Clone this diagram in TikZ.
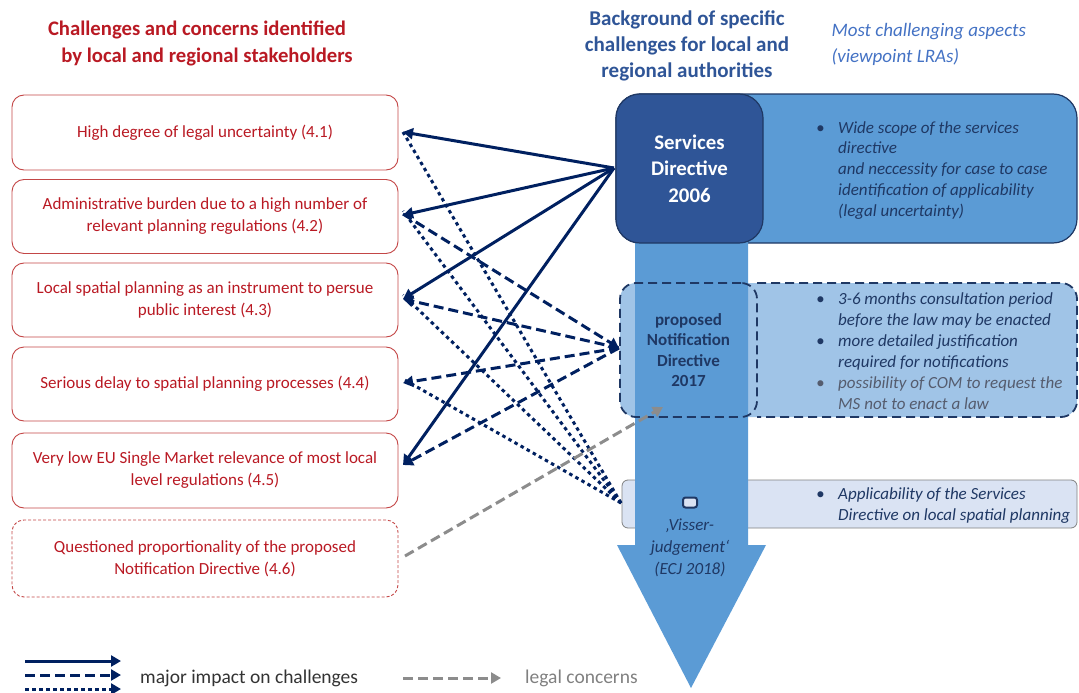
\documentclass[tikz,border=0pt]{standalone}
\usepackage{fontspec}
\setmainfont{Carlito}
\usetikzlibrary{arrows.meta}
\definecolor{redT}{RGB}{185,25,35}
\definecolor{redB}{RGB}{195,70,70}
\definecolor{navy}{RGB}{0,32,96}
\definecolor{mblue}{RGB}{91,155,213}
\definecolor{dblue}{RGB}{47,85,151}
\definecolor{bdark}{RGB}{31,56,100}
\definecolor{lblue}{RGB}{160,196,231}
\definecolor{vlight}{RGB}{218,227,243}
\definecolor{tblue}{RGB}{47,85,151}
\definecolor{iblue}{RGB}{68,114,196}
\definecolor{bgray}{RGB}{85,92,110}
\definecolor{lgray}{RGB}{140,140,140}
\tikzset{
  chbox/.style={draw=redB, line width=0.9pt, rounded corners=12pt, minimum width=386pt, minimum height=75pt, align=center, text=redT, font=\fontsize{17}{22}\selectfont},
  bl/.style={anchor=base west, text=bdark, font=\fontsize{17}{20}\selectfont\itshape, inner sep=0pt},
  blg/.style={bl, text=bgray},
  con/.style={navy, line width=3pt},
  tip/.style={-{Triangle[length=10pt,width=11pt]}},
  dsh/.style={dash pattern=on 10pt off 5pt},
  dot/.style={dash pattern=on 3.5pt off 3.5pt},
}
\begin{document}
\begin{tikzpicture}[x=1pt,y=-1pt]
\useasboundingbox (0,0) rectangle (1079,693);
% titles
\node[text=redT, font=\fontsize{20.7}{24}\selectfont\bfseries] (t1) at (197,30) {Challenges and concerns identified};
\node[text=redT, font=\fontsize{20.7}{24}\selectfont\bfseries] (t2) at (207,57) {by local and regional stakeholders};
\node[text=tblue, font=\fontsize{21}{26}\selectfont\bfseries, align=center] (t3) at (687,46) {Background of specific\\challenges for local and\\regional authorities};
\node[text=iblue, font=\fontsize{19}{26}\selectfont\itshape, align=left, anchor=west] (t4) at (828,44) {Most challenging aspects\\(viewpoint LRAs)};
% left boxes
\node[chbox] (b1) at (205,132.5) {High degree of legal uncertainty (4.1)};
\node[chbox, minimum height=74pt] (b2) at (205,216.5) {Administrative burden due to a high number of\\relevant planning regulations (4.2)};
\node[chbox, minimum height=74pt] (b3) at (205,300) {Local spatial planning as an instrument to persue\\public interest (4.3)};
\node[chbox, minimum height=74pt] (b4) at (205,384) {Serious delay to spatial planning processes (4.4)};
\node[chbox] (b5) at (205,470.5) {Very low EU Single Market relevance of most local\\level regulations (4.5)};
\node[chbox, dashed, dash pattern=on 3pt off 2pt, minimum height=77pt] (b6) at (205,558.5) {Questioned proportionality of the proposed\\Notification Directive (4.6)};
% right structure
\draw[fill=mblue, draw=bdark, line width=1.2pt, rounded corners=24pt] (616,94) rectangle (1077,243);
\fill[lblue, rounded corners=16pt] (620,283) rectangle (1077,417);
\draw[fill=vlight, draw=gray, line width=0.8pt, rounded corners=6pt] (622,480) rectangle (1077,528);
\fill[mblue] (635,230) -- (748,230) -- (748,545) -- (766,545) -- (691,688) -- (617,545) -- (635,545) -- cycle;
\node[draw=bdark, fill=dblue, line width=1.2pt, rounded corners=24pt, minimum width=147pt, minimum height=149pt, text=white, font=\fontsize{20.8}{26.5}\selectfont\bfseries, align=center] (serv) at (689.5,168.5) {Services\\Directive\\2006};
\draw[bdark, line width=1.8pt, dash pattern=on 9pt off 5pt, rounded corners=16pt] (757,283) -- (1077,283) -- (1077,417) -- (757,417);
\node[draw=bdark, line width=1.8pt, dash pattern=on 9pt off 5pt, rounded corners=16pt, minimum width=137pt, minimum height=134pt, text=bdark, font=\fontsize{17}{20.3}\selectfont\bfseries, align=center] (notif) at (688.5,350) {proposed\\Notification\\Directive\\2017};
\node[draw=bdark, fill=vlight, line width=2pt, rounded corners=2.5pt, minimum width=14pt, minimum height=10pt, inner sep=0pt] (icon) at (690,502.5) {};
\node[text=bdark, font=\fontsize{17}{22}\selectfont\itshape, align=center] (visser) at (690,548) {‚Visser-\\judgement‘\\(ECJ 2018)};
% bullets services
\node[bl] (sb1) at (816,133) {•};
\node[bl] (s1) at (838,133) {Wide scope of the services};
\node[bl] (s2) at (838,153.5) {directive};
\node[bl] (s3) at (838,174) {and neccessity for case to case};
\node[bl] (s4) at (838,195) {identification of applicability};
\node[bl] (s5) at (838,216) {(legal uncertainty)};
% bullets notification
\node[bl] (nb1) at (816,304) {•};
\node[bl] (n1) at (838,304) {3-6 months consultation period};
\node[bl] (n2) at (838,325) {before the law may be enacted};
\node[bl] (nb2) at (816,346) {•};
\node[bl] (n3) at (838,346) {more detailed justification};
\node[bl] (n4) at (838,367) {required for notifications};
\node[blg] (nb3) at (816,388) {•};
\node[blg] (n5) at (838,388) {possibility of COM to request the};
\node[blg] (n6) at (838,409) {MS not to enact a law};
% bullets visser
\node[bl] (vb1) at (816,499) {•};
\node[bl] (v1) at (838,499) {Applicability of the Services};
\node[bl] (v2) at (838,520) {Directive on local spatial planning};
% connector points
\coordinate (sP) at (614,168);
\coordinate (nP) at (619,348);
\coordinate (vP) at (621,503);
\coordinate (gP) at (663,407);
\coordinate (e1) at (403,132);
\coordinate (e2) at (403,215);
\coordinate (e3) at (403,299);
\coordinate (e4) at (403,383);
\coordinate (e5) at (403,465);
\coordinate (e6) at (405,556);
% dotted
\draw[con, dot] (vP) -- (e1);
\draw[con, dot] (vP) -- ([yshift=4pt]e2);
\draw[con, dot] (vP) -- ([yshift=4pt]e3);
\draw[con, dot] (vP) -- ([yshift=4pt]e4);
% dashed
\draw[con, dsh, tip] ([yshift=1pt]e2) -- (nP);
\draw[con, dsh, tip] (nP) -- (e3);
\draw[con, dsh, tip] (nP) -- (e4);
\draw[con, dsh, tip] (nP) -- (e5);
% solid
\draw[con, tip] (sP) -- (e1);
\draw[con, tip] (sP) -- (e2);
\draw[con, tip] (sP) -- (e3);
\draw[con, tip] (sP) -- (e5);
% gray
\draw[lgray, line width=3pt, dsh, tip] (e6) -- (gP);
% legend
\coordinate (l1a) at (25,661); \coordinate (l1b) at (121,661);
\coordinate (l2a) at (25,675); \coordinate (l2b) at (121,675);
\coordinate (l3a) at (25,689); \coordinate (l3b) at (121,689);
\draw[con, tip] (l1a) -- (l1b);
\draw[con, dsh, tip] (l2a) -- (l2b);
\draw[con, dot, tip] (l3a) -- (l3b);
\node[anchor=west, text=black!80, font=\fontsize{19.5}{22}\selectfont, inner sep=0pt] (lt1) at (140,678) {major impact on challenges};
\coordinate (g1a) at (403,678); \coordinate (g1b) at (501,678);
\draw[lgray, line width=3pt, dsh, tip] (g1a) -- (g1b);
\node[anchor=west, text=gray, font=\fontsize{19.5}{22}\selectfont, inner sep=0pt] (lt2) at (525,678) {legal concerns};
\end{tikzpicture}
\end{document}
